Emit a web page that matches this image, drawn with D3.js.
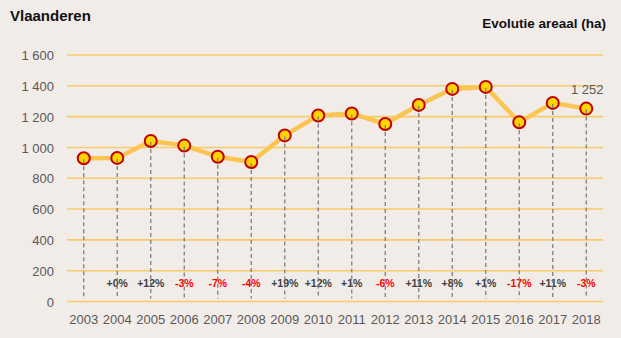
<!DOCTYPE html>
<html><head><meta charset="utf-8">
<script src="https://cdn.jsdelivr.net/npm/d3@7"></script>
<style>body{margin:0;background:#f1ece8;} svg{display:block;}</style>
</head><body>
<script>
const years = ["2003","2004","2005","2006","2007","2008","2009","2010","2011","2012","2013","2014","2015","2016","2017","2018"];
const areaal = [930, 932, 1042, 1012, 940, 905, 1078, 1207, 1220, 1152, 1276, 1380, 1393, 1163, 1289, 1252];
const changes = [null, "+0%", "+12%", "-3%", "-7%", "-4%", "+19%", "+12%", "+1%", "-6%", "+11%", "+8%", "+1%", "-17%", "+11%", "-3%"];
const yTicks = [0, 200, 400, 600, 800, 1000, 1200, 1400, 1600];
const lastLabel = "1 252";

const W = 621, H = 338;
const svg = d3.select("body").append("svg").attr("width", W).attr("height", H)
  .style("font-family", "'Liberation Sans', Arial, sans-serif");
svg.append("rect").attr("width", W).attr("height", H).attr("fill", "#f1ece8");

const x = d3.scaleBand().domain(years).range([67, 603]);
const y = d3.scaleLinear().domain([0, 1600]).range([301.5, 55]);
const fmt = v => d3.format(",")(v).replace(/,/g, " ");

// grid
svg.append("g").selectAll("line").data(yTicks).join("line")
  .attr("x1", 67).attr("x2", 603)
  .attr("y1", d => y(d)).attr("y2", d => y(d))
  .attr("stroke", "#f8cb6a").attr("stroke-width", 1.6);

// y axis labels
const yAxis = d3.axisLeft(y).tickValues(yTicks).tickFormat(fmt).tickSize(0).tickPadding(0);
const ga = svg.append("g").attr("transform", "translate(54,0)").call(yAxis);
ga.select(".domain").remove();
ga.selectAll("text").attr("font-size", 13).attr("fill", "#595959")
  .attr("font-family", "'Liberation Sans', Arial, sans-serif").attr("dy", "0.35em");

// x axis labels
const xAxis = d3.axisBottom(x).tickSize(0).tickPadding(0);
const gx = svg.append("g").attr("transform", "translate(0,315)").call(xAxis);
gx.select(".domain").remove();
gx.selectAll("text").attr("font-size", 13).attr("fill", "#595959")
  .attr("font-family", "'Liberation Sans', Arial, sans-serif");

const cx = d => x(d) + x.bandwidth() / 2;

// change labels
svg.append("g").selectAll("text").data(years).join("text")
  .attr("x", d => cx(d)).attr("y", 287)
  .attr("text-anchor", "middle").attr("font-size", 10.5).attr("font-weight", "bold")
  .attr("fill", (d, i) => changes[i] && changes[i][0] === "-" ? "#ff0000" : "#404040")
  .text((d, i) => changes[i] || "");

// line
const line = d3.line().x((d, i) => cx(years[i])).y(d => y(d));
svg.append("path").datum(areaal).attr("d", line)
  .attr("fill", "none").attr("stroke", "#fcc552").attr("stroke-width", 4.5)
  .attr("stroke-linejoin", "round");

// markers
svg.append("g").selectAll("circle").data(areaal).join("circle")
  .attr("cx", (d, i) => cx(years[i])).attr("cy", d => y(d)).attr("r", 6)
  .attr("fill", "#ffd400").attr("stroke", "#c00000").attr("stroke-width", 2);

// drop lines (drawn over markers, from point centre)
svg.append("g").selectAll("line").data(years).join("line")
  .attr("x1", d => cx(d)).attr("x2", d => cx(d))
  .attr("y1", (d, i) => y(areaal[i]) + 1).attr("y2", y(0) - 3)
  .attr("stroke", "#7f7f7f").attr("stroke-width", 1.3).attr("stroke-dasharray", "4,3");

// last value label
svg.append("text").attr("x", cx(years[years.length - 1]) + 1).attr("y", y(areaal[areaal.length - 1]) - 15)
  .attr("text-anchor", "middle").attr("font-size", 13).attr("fill", "#595959").text(lastLabel);

// titles
svg.append("text").attr("x", 10).attr("y", 21).attr("font-size", 15).attr("font-weight", "bold")
  .attr("fill", "#111").text("Vlaanderen");
svg.append("text").attr("x", 606).attr("y", 28).attr("text-anchor", "end").attr("font-size", 13.5)
  .attr("font-weight", "bold").attr("fill", "#111").text("Evolutie areaal (ha)");
</script>
</body></html>
